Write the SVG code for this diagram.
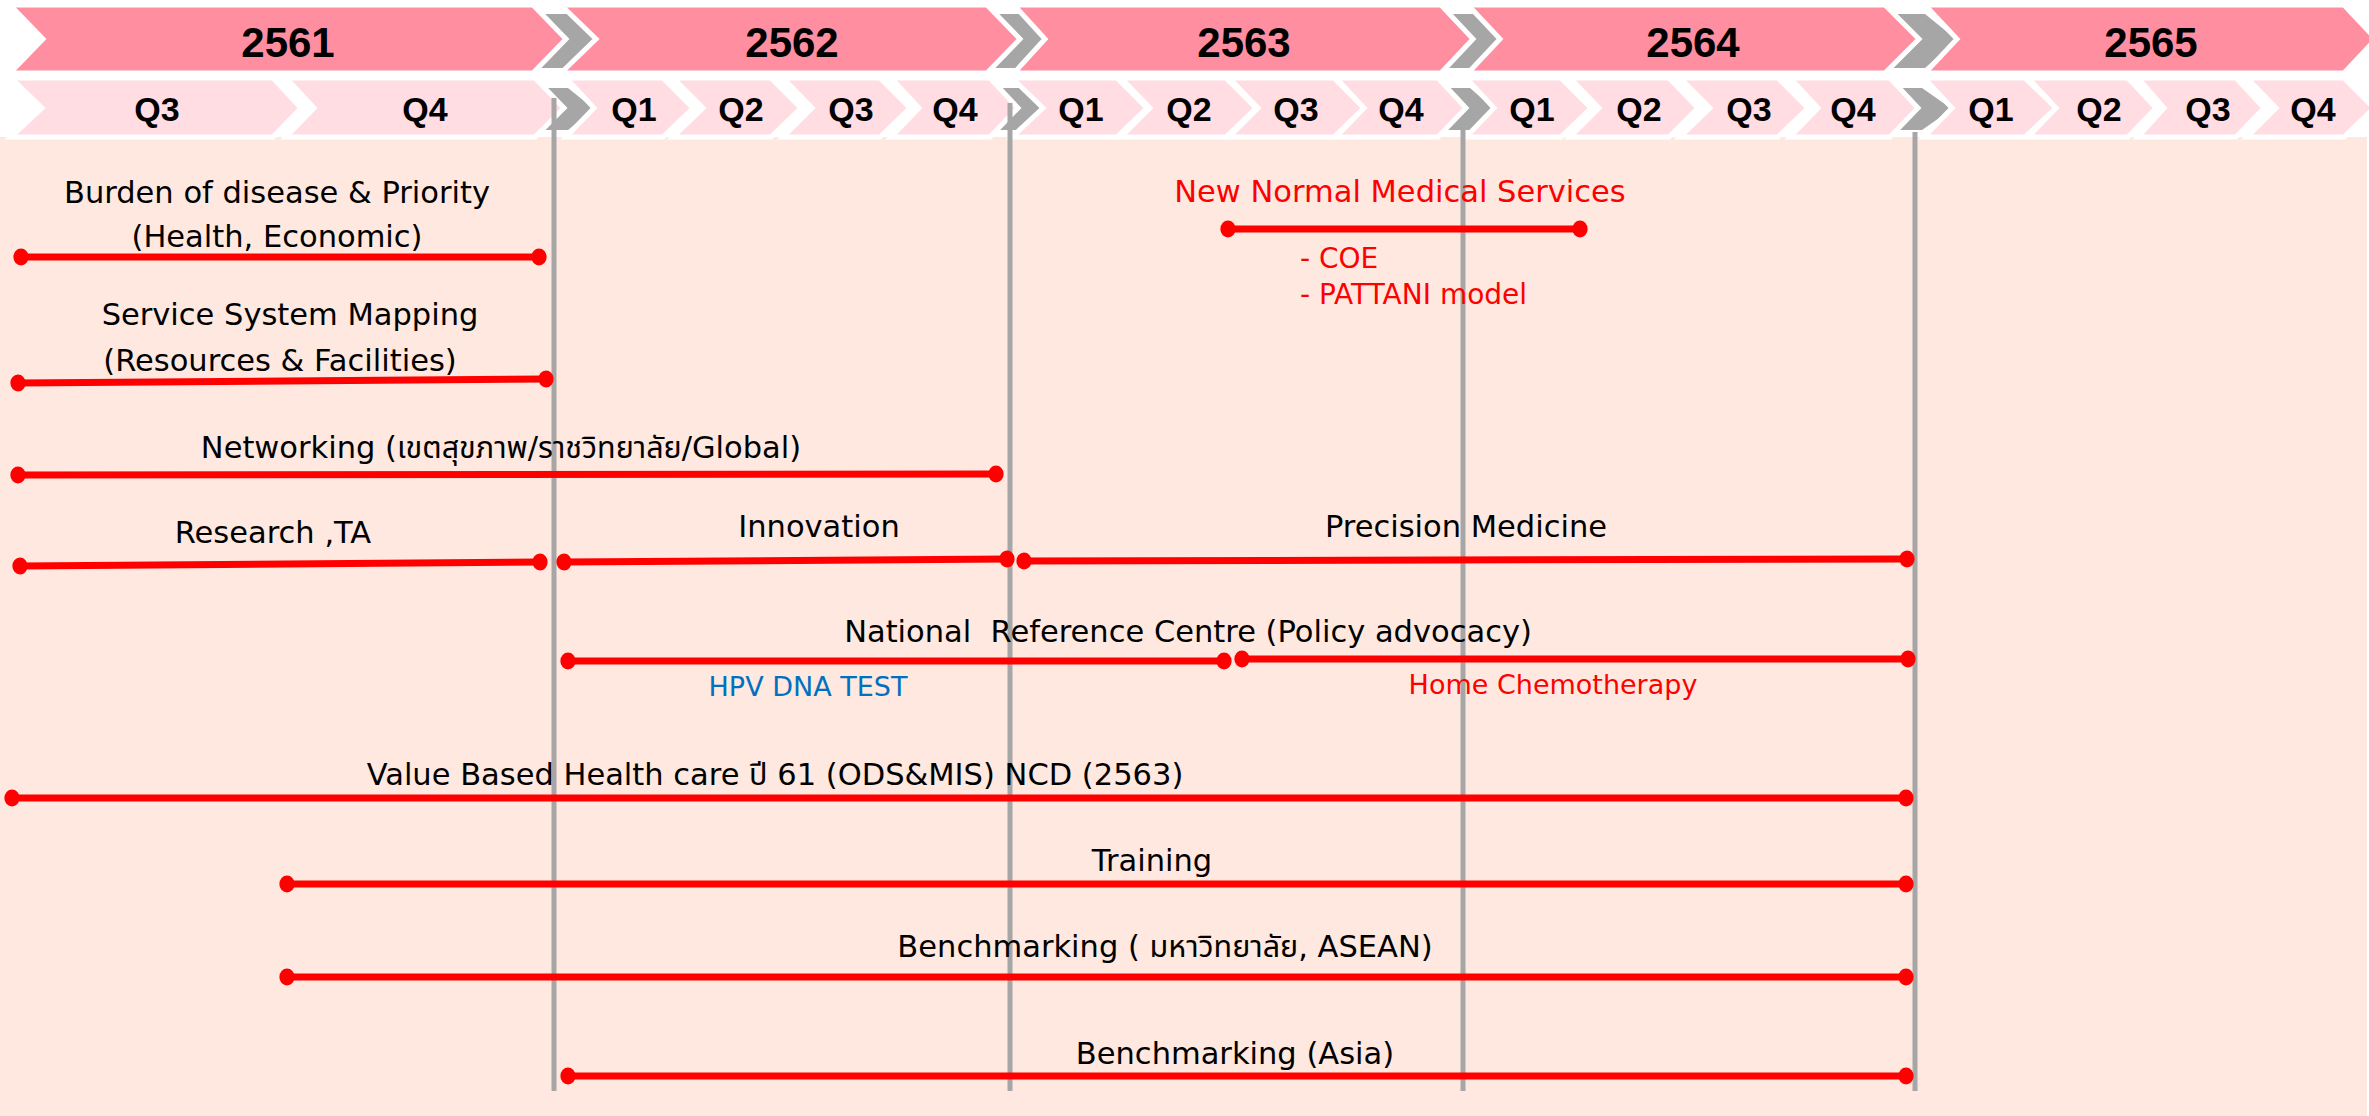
<svg xmlns="http://www.w3.org/2000/svg" width="2369" height="1116" viewBox="0 0 2369 1116">
<style>
.yr{fill:#FF8FA0;stroke:#FFFFFF;stroke-width:5;stroke-linejoin:miter}
.qt{fill:#FFDDE3;stroke:#FFFFFF;stroke-width:5;stroke-linejoin:miter}
.gy{fill:#A6A6A6}
.vl{stroke:#A6A6A6;stroke-width:5}
.yt{font-family:"Liberation Sans",Arial,sans-serif;font-weight:bold;font-size:42px;fill:#000;text-anchor:middle}
.qtx{font-family:"Liberation Sans",Arial,sans-serif;font-weight:bold;font-size:34px;fill:#000;text-anchor:middle}
.lb{font-family:"DejaVu Sans","Noto Sans","Noto Sans Thai",sans-serif;font-size:30.5px;fill:#000;text-anchor:middle}
.rd{fill:#FF0000}
.bl{fill:#0070C0}
.sm{font-size:27px}
.md{font-size:28px}
.bar{stroke:#FF0000;stroke-width:7;fill:none;marker-start:url(#dot);marker-end:url(#dot)}
</style>
<defs>
<marker id="dot" viewBox="0 0 20 20" refX="10" refY="10" markerWidth="17" markerHeight="18" markerUnits="userSpaceOnUse" orient="auto">
<ellipse cx="10" cy="10" rx="9" ry="10" fill="#FF0000"/>
</marker>
</defs>
<rect x="0" y="0" width="2369" height="1116" fill="#FFFFFF"/>
<rect x="0" y="137" width="2367" height="979" fill="#FEE8DF"/>

<g id="header">
<polygon class="gy" points="530,14 570,14 596,40 570,68 530,68"/>
<polygon class="gy" points="985,14 1022,14 1045,40 1022,68 985,68"/>
<polygon class="gy" points="1438,14 1475,14 1500,40 1475,68 1438,68"/>
<polygon class="gy" points="1882,14 1925,14 1957,40 1925,68 1882,68"/>
<polygon class="gy" points="535,88 568,88 594,109 568,130 535,130"/>
<polygon class="gy" points="990,88 1020,88 1043,109 1020,130 990,130"/>
<polygon class="gy" points="1440,88 1470,88 1494,109 1470,130 1440,130"/>
<polygon class="gy" points="1890,88 1922,88 1952,109 1922,130 1890,130"/>

<g id="y2561"><polygon class="yr" points="10,5 533,5 566,39 533,73 10,73 43,39"/><text class="yt" x="288" y="57">2561</text></g>
<g id="y2562"><polygon class="yr" points="561,5 987,5 1020,39 987,73 561,73 596,39"/><text class="yt" x="792" y="57">2562</text></g>
<g id="y2563"><polygon class="yr" points="1014,5 1441,5 1473,39 1441,73 1014,73 1045,39"/><text class="yt" x="1244" y="57">2563</text></g>
<g id="y2564"><polygon class="yr" points="1468,5 1885,5 1919,39 1885,73 1468,73 1500,39"/><text class="yt" x="1693" y="57">2564</text></g>
<g id="y2565"><polygon class="yr" points="1925,5 2344,5 2376,39 2344,73 1925,73 1957,39"/><text class="yt" x="2151" y="57">2565</text></g>

<g id="q2561-3"><polygon class="qt" points="11,78 273,78 301,108 273,137 11,137 42,108"/><text class="qtx" x="157" y="121">Q3</text></g>
<g id="q2561-4"><polygon class="qt" points="286,78 535,78 564,108 535,137 286,137 314,108"/><text class="qtx" x="425" y="121">Q4</text></g>
<g id="q2562-1"><polygon class="qt" points="566,78 663,78 693,108 663,137 566,137 594,108"/><text class="qtx" x="634" y="121">Q1</text></g>
<g id="q2562-2"><polygon class="qt" points="673,78 771,78 801,108 771,137 673,137 703,108"/><text class="qtx" x="741" y="121">Q2</text></g>
<g id="q2562-3"><polygon class="qt" points="783,78 880,78 910,108 880,137 783,137 812,108"/><text class="qtx" x="851" y="121">Q3</text></g>
<g id="q2562-4"><polygon class="qt" points="891,78 990,78 1018,108 990,137 891,137 919,108"/><text class="qtx" x="955" y="121">Q4</text></g>
<g id="q2563-1"><polygon class="qt" points="1012,78 1117,78 1147,108 1117,137 1012,137 1043,108"/><text class="qtx" x="1081" y="121">Q1</text></g>
<g id="q2563-2"><polygon class="qt" points="1121,78 1226,78 1256,108 1226,137 1121,137 1150,108"/><text class="qtx" x="1189" y="121">Q2</text></g>
<g id="q2563-3"><polygon class="qt" points="1229,78 1334,78 1364,108 1334,137 1229,137 1258,108"/><text class="qtx" x="1296" y="121">Q3</text></g>
<g id="q2563-4"><polygon class="qt" points="1336,78 1438,78 1466,108 1438,137 1336,137 1364,108"/><text class="qtx" x="1401" y="121">Q4</text></g>
<g id="q2564-1"><polygon class="qt" points="1466,78 1561,78 1591,108 1561,137 1466,137 1494,108"/><text class="qtx" x="1532" y="121">Q1</text></g>
<g id="q2564-2"><polygon class="qt" points="1570,78 1669,78 1698,108 1669,137 1570,137 1599,108"/><text class="qtx" x="1639" y="121">Q2</text></g>
<g id="q2564-3"><polygon class="qt" points="1680,78 1778,78 1808,108 1778,137 1680,137 1710,108"/><text class="qtx" x="1749" y="121">Q3</text></g>
<g id="q2564-4"><polygon class="qt" points="1790,78 1890,78 1918,108 1890,137 1790,137 1818,108"/><text class="qtx" x="1853" y="121">Q4</text></g>
<g id="q2565-1"><polygon class="qt" points="1924,78 2025,78 2056,108 2025,137 1924,137 1952,108"/><text class="qtx" x="1991" y="121">Q1</text></g>
<g id="q2565-2"><polygon class="qt" points="2028,78 2128,78 2156,108 2128,137 2028,137 2056,108"/><text class="qtx" x="2099" y="121">Q2</text></g>
<g id="q2565-3"><polygon class="qt" points="2138,78 2236,78 2264,108 2236,137 2138,137 2164,108"/><text class="qtx" x="2208" y="121">Q3</text></g>
<g id="q2565-4"><polygon class="qt" points="2247,78 2344,78 2374,108 2344,137 2247,137 2276,108"/><text class="qtx" x="2313" y="121">Q4</text></g>
</g>

<g id="gridlines">
<line class="vl" x1="554" y1="98" x2="554" y2="1091"/>
<line class="vl" x1="1010" y1="103" x2="1010" y2="1091"/>
<line class="vl" x1="1463" y1="130" x2="1463" y2="1091"/>
<line class="vl" x1="1915" y1="132" x2="1915" y2="1091"/>
</g>

<g id="connectors">
<path class="bar" d="M21,257 L539,257"/>
<path class="bar" d="M18,383 L546,379"/>
<path class="bar" d="M18,475 L996,474"/>
<path class="bar" d="M20,566 L540,562"/>
<path class="bar" d="M564,562 L1007,559"/>
<path class="bar" d="M1024,561 L1907,559"/>
<path class="bar" d="M1228,229 L1580,229"/>
<path class="bar" d="M568,661 L1224,661"/>
<path class="bar" d="M1242,659 L1908,659"/>
<path class="bar" d="M12,798 L1906,798"/>
<path class="bar" d="M287,884 L1906,884"/>
<path class="bar" d="M287,977 L1906,977"/>
<path class="bar" d="M568,1076 L1906,1076"/>
</g>

<g id="burden"><text class="lb" x="277" y="203">Burden of disease &amp; Priority</text><text class="lb" x="277" y="247">(Health, Economic)</text></g>
<g id="service"><text class="lb" x="290" y="325">Service System Mapping</text><text class="lb" x="280" y="371">(Resources &amp; Facilities)</text></g>
<g id="networking"><text class="lb" x="501" y="458">Networking (เขตสุขภาพ/ราชวิทยาลัย/Global)</text></g>
<g id="research"><text class="lb" x="273" y="543">Research ,TA</text></g>
<g id="innovation"><text class="lb" x="819" y="537">Innovation</text></g>
<g id="precision"><text class="lb" x="1466" y="537">Precision Medicine</text></g>
<g id="newnormal"><text class="lb rd" x="1400" y="202">New Normal Medical Services</text>
<text class="lb rd md" x="1300" y="268" style="text-anchor:start">- COE</text>
<text class="lb rd md" x="1300" y="304" style="text-anchor:start">- PATTANI model</text></g>
<g id="national"><text class="lb" x="1188" y="642" xml:space="preserve">National  Reference Centre (Policy advocacy)</text></g>
<g id="hpv"><text class="lb bl sm" x="808" y="696">HPV DNA TEST</text></g>
<g id="homechemo"><text class="lb rd sm" x="1553" y="694">Home Chemotherapy</text></g>
<g id="value"><text class="lb" x="775" y="785">Value Based Health care ปี 61 (ODS&amp;MIS) NCD (2563)</text></g>
<g id="training"><text class="lb" x="1152" y="871">Training</text></g>
<g id="bench1"><text class="lb" x="1165" y="957">Benchmarking ( มหาวิทยาลัย, ASEAN)</text></g>
<g id="bench2"><text class="lb" x="1235" y="1064">Benchmarking (Asia)</text></g>
</svg>
